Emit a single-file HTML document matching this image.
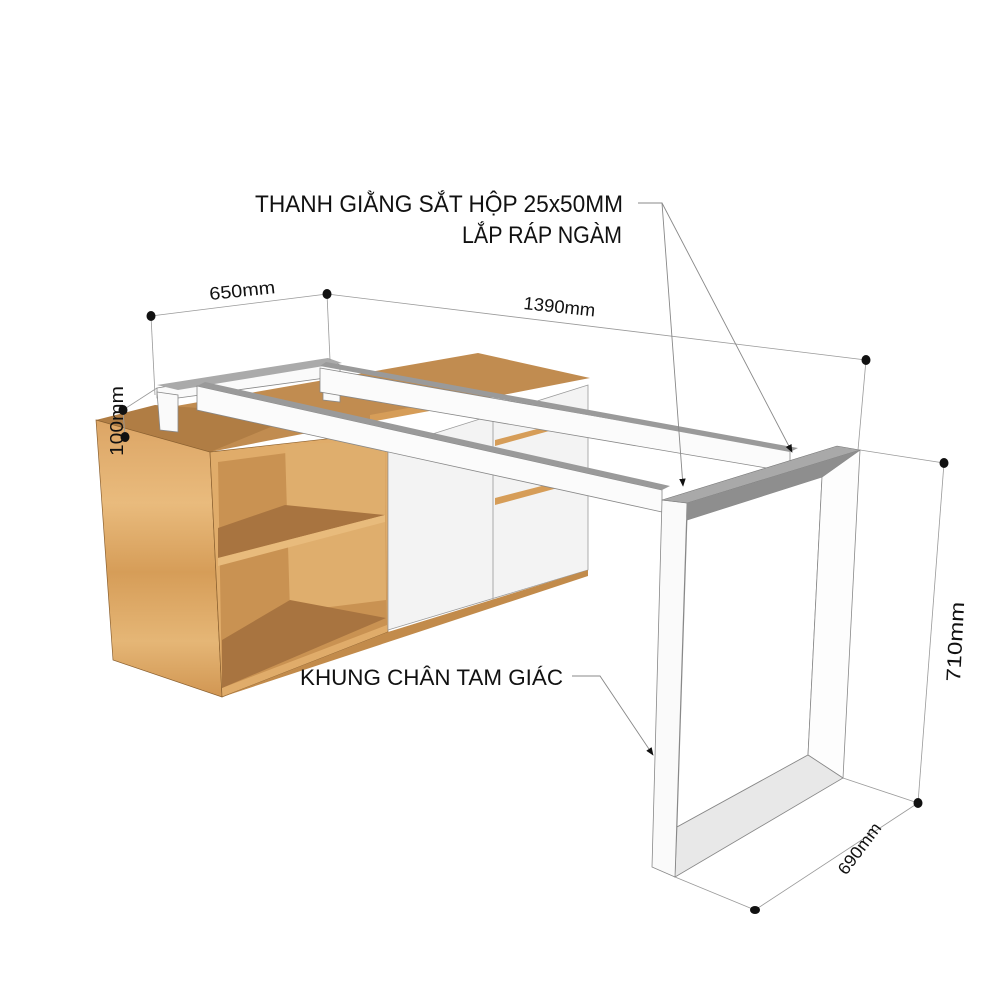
<!DOCTYPE html>
<html><head><meta charset="utf-8"><style>
html,body{margin:0;padding:0;background:#fff;}
svg{display:block;}
text{font-family:"Liberation Sans",sans-serif;fill:#111;}
</style></head><body>
<svg width="1000" height="983" viewBox="0 0 1000 983" xmlns="http://www.w3.org/2000/svg">
<defs>
<linearGradient id="wd" x1="0" y1="0" x2="0" y2="1">
<stop offset="0" stop-color="#dca565"/><stop offset="0.3" stop-color="#e9bb7d"/><stop offset="0.55" stop-color="#d69d58"/><stop offset="0.8" stop-color="#e5b676"/><stop offset="1" stop-color="#d19652"/>
</linearGradient>
<marker id="ar" viewBox="0 0 10 10" refX="9" refY="5" markerWidth="9" markerHeight="9" orient="auto"><path d="M0,1 L10,5 L0,9 z" fill="#111"/></marker>
</defs>
<rect width="1000" height="983" fill="#fff"/>

<polygon points="96,420 210,452 590,378 478,353" fill="#c18c50"/>
<polygon points="96,420 155,405 300,415 210,452" fill="#b07d44"/>
<polygon points="96,420 210,452 222,697 113,660" fill="url(#wd)" stroke="#8a6030" stroke-width="0.7"/>
<polygon points="210,452 388,432 388,632 222,697" fill="#e0ac6a" stroke="#8a6030" stroke-width="0.7"/>
<polygon points="218,462 385,440 387,625 222,688" fill="#c99252"/>
<polygon points="285,445 385,440 386,600 290,612" fill="#dfae6d"/>
<polygon points="218,528 285,505 385,515 218,558" fill="#a87440"/>
<polygon points="218,558 385,515 385,522 218,566" fill="#e8bb7c"/>
<polygon points="222,640 290,600 386,618 222,688" fill="#a87440"/>
<polygon points="388,448 588,385 588,570 388,630" fill="#f3f3f3" stroke="#9a9a9a" stroke-width="0.8"/>
<line x1="493" y1="418" x2="493" y2="600" stroke="#aaa" stroke-width="1"/>
<polygon points="495,498 565,480 565,486 495,505" fill="#d69d58"/>
<polygon points="495,440 560,423 560,428 495,446" fill="#d69d58"/>
<polygon points="388,632 588,570 588,576 222,697" fill="#c28b4b"/>
<polygon points="370,415 478,395 478,402 370,422" fill="#d69d58"/>

<polygon points="157,388 330,360 340,365 340,376 178,398 157,398" fill="#fafafa" stroke="#888" stroke-width="0.8"/>
<polygon points="157,385 328,358 342,363 178,390" fill="#aaa"/>
<polygon points="157,392 178,395 178,432 160,430" fill="#fafafa" stroke="#888" stroke-width="0.8"/>
<polygon points="323,375 340,376 340,402 323,400" fill="#fafafa" stroke="#888" stroke-width="0.8"/>
<polygon points="320,368 790,450 790,472 320,392" fill="#fbfbfb" stroke="#888" stroke-width="0.8"/>
<polygon points="320,366 326,362 798,448 790,452" fill="#9a9a9a"/>
<polygon points="197,386 662,490 662,512 197,410" fill="#fbfbfb" stroke="#888" stroke-width="0.8"/>
<polygon points="197,386 205,382 670,486 662,490" fill="#9a9a9a"/>

<polygon points="687,520 822,477 808,755 677,827" fill="#fff" stroke="#888" stroke-width="0.8"/>
<polygon points="822,477 860,450 843,778 808,755" fill="#fdfdfd" stroke="#888" stroke-width="0.8"/>
<polygon points="677,827 808,755 843,778 675,877" fill="#e8e8e8" stroke="#888" stroke-width="0.8"/>
<polygon points="662,500 687,503 675,877 652,867" fill="#fafafa" stroke="#888" stroke-width="0.8"/>
<polygon points="662,500 837,446 860,450 687,503" fill="#a9a9a9" stroke="#777" stroke-width="0.6"/>
<polygon points="687,503 860,450 822,477 687,520" fill="#8e8e8e"/>

<g stroke="#999" stroke-width="0.8" fill="none">
<line x1="151" y1="316" x2="327" y2="294"/>
<line x1="327" y1="294" x2="866" y2="360"/>
<line x1="151" y1="316" x2="155" y2="395"/>
<line x1="327" y1="294" x2="330" y2="360"/>
<line x1="866" y1="360" x2="858" y2="450"/>
<line x1="123" y1="410" x2="157" y2="388"/>
<line x1="123" y1="410" x2="125" y2="437"/>
<line x1="944" y1="463" x2="918" y2="803"/>
<line x1="860" y1="450" x2="944" y2="463"/>
<line x1="843" y1="778" x2="918" y2="803"/>
<line x1="918" y1="803" x2="755" y2="910"/>
<line x1="675" y1="877" x2="755" y2="910"/>
</g>
<g fill="#111">
<ellipse cx="151" cy="316" rx="4.5" ry="5"/>
<ellipse cx="327" cy="294" rx="4.5" ry="5"/>
<ellipse cx="866" cy="360" rx="4.5" ry="5"/>
<ellipse cx="123" cy="410" rx="4.5" ry="5"/>
<ellipse cx="125" cy="437" rx="4.5" ry="5"/>
<ellipse cx="944" cy="463" rx="4.5" ry="5"/>
<ellipse cx="918" cy="803" rx="4.5" ry="5"/>
<ellipse cx="755" cy="910" rx="5" ry="4"/>
</g>
<text x="210" y="300" font-size="18" transform="rotate(-6 210 300)" textLength="66" lengthAdjust="spacingAndGlyphs">650mm</text>
<text x="523" y="309" font-size="18" transform="rotate(6 523 309)" textLength="72" lengthAdjust="spacingAndGlyphs">1390mm</text>
<text x="0" y="0" font-size="18" transform="translate(123,456) rotate(-90)" textLength="70" lengthAdjust="spacingAndGlyphs">100mm</text>
<text x="0" y="0" font-size="20" transform="translate(960,682) rotate(-87)" textLength="80" lengthAdjust="spacingAndGlyphs">710mm</text>
<text x="0" y="0" font-size="17" transform="translate(846,876) rotate(-53)" textLength="60" lengthAdjust="spacingAndGlyphs">690mm</text>

<text x="255" y="212" font-size="24" textLength="368" lengthAdjust="spacingAndGlyphs">THANH GIẰNG SẮT HỘP 25x50MM</text>
<text x="462" y="243" font-size="24" textLength="160" lengthAdjust="spacingAndGlyphs">LẮP RÁP NGÀM</text>
<g stroke="#888" stroke-width="0.9" fill="none">
<polyline points="638,203 662,203 683,486" marker-end="url(#ar)"/>
<line x1="662" y1="203" x2="792" y2="452" marker-end="url(#ar)"/>
<polyline points="572,676 600,676 653,755" marker-end="url(#ar)"/>
</g>
<text x="300" y="685" font-size="22" textLength="263" lengthAdjust="spacingAndGlyphs">KHUNG CHÂN TAM GIÁC</text>
</svg>
</body></html>
